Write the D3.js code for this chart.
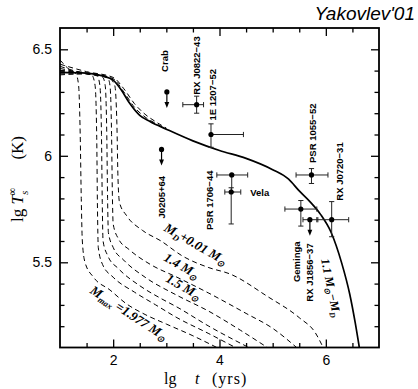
<!DOCTYPE html>
<html>
<head>
<meta charset="utf-8">
<script src="https://cdn.jsdelivr.net/npm/d3@7"></script>
<style>
  html, body { margin: 0; padding: 0; background: #fff; }
  svg { display: block; }
</style>
</head>
<body>
<div id="chart"></div>
<script>
// Cooling curves, points are [lg t (yrs), lg Ts (K)]
var curve11 = [[1.0, 6.392], [1.5, 6.388], [1.8, 6.375], [2.0, 6.355], [2.15, 6.31], [2.3, 6.25],
  [2.5, 6.19], [2.7, 6.16], [3.0, 6.125], [3.5, 6.07], [4.0, 6.025], [4.5, 5.988], [5.0, 5.935],
  [5.3, 5.89], [5.5, 5.835], [5.7, 5.785], [5.9, 5.725], [6.1, 5.64], [6.3, 5.495], [6.45, 5.35],
  [6.55, 5.22], [6.63, 5.1]];
var curveMmax = [[1.0, 6.45], [1.2, 6.4], [1.3, 6.385], [1.35, 6.33], [1.38, 6.1], [1.4, 5.8],
  [1.42, 5.6], [1.47, 5.5], [1.63, 5.43], [1.94, 5.37], [2.25, 5.305], [2.6, 5.255], [3.0, 5.21],
  [3.5, 5.155], [3.95, 5.1]];
var curveB = [[1.0, 6.42], [1.4, 6.39], [1.6, 6.378], [1.66, 6.33], [1.69, 6.1], [1.705, 5.75],
  [1.72, 5.57], [1.8, 5.49], [2.0, 5.43], [2.4, 5.36], [2.8, 5.3], [3.2, 5.24], [3.8, 5.165], [4.3, 5.1]];
var curve15 = [[1.0, 6.41], [1.4, 6.39], [1.7, 6.375], [1.75, 6.33], [1.78, 6.1], [1.795, 5.78],
  [1.81, 5.6], [1.9, 5.53], [2.1, 5.47], [2.5, 5.39], [2.9, 5.33], [3.2, 5.29], [3.8, 5.2], [4.55, 5.1]];
var curveD = [[1.0, 6.40], [1.5, 6.385], [1.8, 6.37], [1.85, 6.33], [1.88, 6.1], [1.895, 5.8],
  [1.91, 5.64], [2.0, 5.57], [2.2, 5.51], [2.6, 5.43], [3.2, 5.345], [3.8, 5.27], [4.4, 5.18], [4.9, 5.1]];
var curve14 = [[1.0, 6.385], [1.5, 6.385], [1.9, 6.365], [1.94, 6.33], [1.97, 6.1], [1.985, 5.82],
  [2.0, 5.68], [2.1, 5.61], [2.3, 5.56], [2.7, 5.49], [3.2, 5.43], [3.8, 5.355], [4.5, 5.26],
  [5.0, 5.19], [5.45, 5.1]];
var curveMd = [[1.0, 6.38], [1.5, 6.385], [1.9, 6.37], [2.03, 6.33], [2.07, 6.15], [2.09, 5.9],
  [2.12, 5.78], [2.25, 5.72], [2.55, 5.65], [2.9, 5.6], [3.3, 5.53], [3.8, 5.475], [4.2, 5.445],
  [4.9, 5.34], [5.5, 5.24], [5.8, 5.17], [5.95, 5.1]];
var curveHugA = [[1.0, 6.43], [1.5, 6.395], [2.0, 6.368], [2.2, 6.315], [2.4, 6.245], [2.6, 6.195],
  [2.8, 6.16], [3.0, 6.13]];
var curveHugB = [[1.0, 6.40], [1.5, 6.39], [2.0, 6.362], [2.2, 6.3], [2.4, 6.228], [2.6, 6.182],
  [2.8, 6.152], [3.0, 6.126]];
var dashedCurves = [curveMmax, curveB, curve15, curveD, curve14, curveMd, curveHugA, curveHugB];

// Observed neutron stars
var obsName   = ["Crab", "RX J0822\u221243", "1E 1207\u221252", "J0205+64", "PSR 1706\u221244", "Vela",
                 "PSR 1055\u221252", "Geminga", "RX J1856\u221237", "RX J0720\u221231"];
var obsAge    = [3.01, 3.57, 3.84, 2.91, 4.23, 4.22, 5.73, 5.53, 5.70, 6.11];
var obsAgeLo  = [null, 3.31, 3.84, null, 3.95, 4.10, 5.44, 5.23, 5.57, 5.83];
var obsAgeHi  = [null, 3.70, 4.45, null, 4.53, 4.40, 6.04, 5.83, 5.85, 6.43];
var obsTemp   = [6.30, 6.24, 6.10, 6.03, 5.91, 5.83, 5.91, 5.75, 5.70, 5.70];
var obsTempLo = [null, 6.20, 6.04, null, 5.83, 5.68, 5.87, 5.67, null, 5.62];
var obsTempHi = [null, 6.28, 6.15, null, 5.91, 5.85, 5.94, 5.79, null, 5.785];
var obsLimit  = [true, false, false, true, false, false, false, false, true, false];

// Axis ticks
var xMajor = [2, 4, 6];
var xMinor = [1.5, 2.5, 3, 3.5, 4.5, 5, 5.5, 6.5];
var yMajor = [5.5, 6, 6.5];
var yMinor = [5.2, 5.3, 5.4, 5.6, 5.7, 5.8, 5.9, 6.1, 6.2, 6.3, 6.4];

var W = 418, H = 389;
var svg = d3.select("#chart").append("svg").attr("width", W).attr("height", H);

var x = d3.scaleLinear().domain([1, 7]).range([60, 379]);
var y = d3.scaleLinear().domain([5.1, 6.6]).range([347.5, 28]);

var sans = "'Liberation Sans', Arial, sans-serif";
var serif = "'Liberation Serif', 'Times New Roman', serif";

// ticks (inward on all four sides)
function ticks(axis, vals, size, tr, labels) {
  var g = svg.append("g").attr("transform", tr)
    .call(axis.tickValues(vals).tickSizeInner(-size).tickSizeOuter(0).tickPadding(labels ? 8 : 0)
      .tickFormat(labels ? function (d) { return String(d); } : ""));
  g.select(".domain").remove();
  g.selectAll(".tick line").attr("stroke", "#000").attr("stroke-width", 1.3);
  g.selectAll(".tick text").attr("font-family", sans).attr("font-size", 14).attr("fill", "#000");
  return g;
}
ticks(d3.axisBottom(x), xMajor, 8, "translate(0,347.5)", true);
ticks(d3.axisBottom(x), xMinor, 4.5, "translate(0,347.5)", false);
ticks(d3.axisTop(x), xMajor, 8, "translate(0,28)", false);
ticks(d3.axisTop(x), xMinor, 4.5, "translate(0,28)", false);
ticks(d3.axisLeft(y), yMajor, 8, "translate(60,0)", true);
ticks(d3.axisLeft(y), yMinor, 4.5, "translate(60,0)", false);
ticks(d3.axisRight(y), yMajor, 8, "translate(379,0)", false);
ticks(d3.axisRight(y), yMinor, 4.5, "translate(379,0)", false);

// clip for curves
svg.append("clipPath").attr("id", "plot-clip").append("rect")
  .attr("x", 60).attr("y", 28).attr("width", 319).attr("height", 319.5);

var line = d3.line()
  .x(function (d) { return x(d[0]); })
  .y(function (d) { return y(d[1]); })
  .curve(d3.curveMonotoneX);

var curves = svg.append("g").attr("clip-path", "url(#plot-clip)");
curves.selectAll(".dash").data(dashedCurves).join("path")
  .attr("class", "dash")
  .attr("d", line)
  .attr("fill", "none").attr("stroke", "#000").attr("stroke-width", 1)
  .attr("stroke-dasharray", "5,3.5");
curves.append("path").attr("d", line(curve11))
  .attr("fill", "none").attr("stroke", "#000").attr("stroke-width", 1.7);

// frame
svg.append("rect").attr("x", 60).attr("y", 28).attr("width", 319).attr("height", 319.5)
  .attr("fill", "none").attr("stroke", "#000").attr("stroke-width", 1.8);

// observations
var idx = d3.range(obsName.length);
var obs = svg.append("g").attr("stroke", "#222").attr("stroke-width", 1);
var cap = 2.6;
idx.forEach(function (i) {
  var px = x(obsAge[i]), py = y(obsTemp[i]);
  if (obsAgeLo[i] != null) {
    var x0 = x(obsAgeLo[i]), x1 = x(obsAgeHi[i]);
    obs.append("line").attr("x1", x0).attr("x2", x1).attr("y1", py).attr("y2", py);
    obs.append("line").attr("x1", x0).attr("x2", x0).attr("y1", py - cap).attr("y2", py + cap);
    obs.append("line").attr("x1", x1).attr("x2", x1).attr("y1", py - cap).attr("y2", py + cap);
  }
  if (obsTempLo[i] != null) {
    var y0 = y(obsTempLo[i]), y1 = y(obsTempHi[i]);
    obs.append("line").attr("x1", px).attr("x2", px).attr("y1", y0).attr("y2", y1);
    obs.append("line").attr("x1", px - cap).attr("x2", px + cap).attr("y1", y0).attr("y2", y0);
    obs.append("line").attr("x1", px - cap).attr("x2", px + cap).attr("y1", y1).attr("y2", y1);
  }
  if (obsLimit[i]) {
    obs.append("line").attr("x1", px).attr("x2", px).attr("y1", py).attr("y2", py + 12)
      .attr("stroke", "#000").attr("stroke-width", 1.2);
    obs.append("path")
      .attr("d", "M" + (px - 2.4) + "," + (py + 10) + "L" + (px + 2.4) + "," + (py + 10) + "L" + px + "," + (py + 16) + "Z")
      .attr("fill", "#000").attr("stroke", "none");
  }
  obs.append("circle").attr("cx", px).attr("cy", py).attr("r", 2.6)
    .attr("fill", "#000").attr("stroke", "none");
});

// object labels: offset from the point (px), rotated unless noted
var labelDx = [1.5, 3.5, 5.5, 3.5, -18.5, 19, 4.5, -1, 3, 11.5];
var labelDy = [-20, -10, -14, 69, 55, 4, -12, 73, 82, -19];
var labelRot = [-90, -90, -90, -90, -90, 0, -90, -90, -90, -90];
idx.forEach(function (i) {
  var lx = x(obsAge[i]) + labelDx[i], ly = y(obsTemp[i]) + labelDy[i];
  svg.append("text")
    .attr("transform", "translate(" + lx + "," + ly + ") rotate(" + labelRot[i] + ")")
    .attr("font-family", sans).attr("font-weight", "bold").attr("font-size", 9.5)
    .attr("fill", "#000")
    .text(obsName[i]);
});

// rich text helper (sub/sup)
function richText(t, parts, size) {
  var shift = 0;
  parts.forEach(function (p) {
    var target = p[1] === "sub" ? size * 0.32 : p[1] === "sup" ? -size * 0.42 : 0;
    var ts = t.append("tspan").attr("dy", target - shift)
      .attr("font-size", p[1] ? size * 0.66 : size).text(p[0]);
    if (p[2]) ts.attr("dx", p[2]);
    if (p[3]) ts.attr("font-style", p[3]);
    shift = target;
  });
}

function curveLabel(cx, cy, rot, parts, size) {
  var t = svg.append("text")
    .attr("transform", "translate(" + cx + "," + cy + ") rotate(" + rot + ")")
    .attr("text-anchor", "middle").attr("dominant-baseline", "middle")
    .attr("font-family", serif).attr("font-weight", "bold").attr("font-style", "italic")
    .attr("fill", "#000");
  richText(t, parts, size);
}
curveLabel(195, 245, 30, [["M", ""], ["D", "sub"], ["+0.01 M", ""], ["\u2299", "sub"]], 13);
curveLabel(181, 267, 30, [["1.4 M", ""], ["\u2299", "sub"]], 13);
curveLabel(183, 288, 30, [["1.5 M", ""], ["\u2299", "sub"]], 13);
curveLabel(128, 314, 33, [["M", ""], ["max", "sub"], [" =1.977 M", ""], ["\u2299", "sub"]], 13);
curveLabel(330, 288, 78, [["1.1 M", ""], ["\u2299", "sub"], ["\u2212M", ""], ["D", "sub"]], 12);

// axis titles
var xt = svg.append("text").attr("x", 164).attr("y", 384)
  .attr("font-family", serif).attr("font-size", 16).attr("fill", "#000");
xt.append("tspan").text("lg");
xt.append("tspan").attr("x", 195).attr("font-style", "italic").text("t");
xt.append("tspan").attr("x", 212).attr("letter-spacing", 1).text("(yrs)");

var yt = svg.append("text").attr("transform", "translate(23,222) rotate(-90)")
  .attr("font-family", serif).attr("font-size", 17).attr("fill", "#000");
richText(yt, [["lg ", ""], ["T", "", null, "italic"], ["s", "sub", null, "italic"], ["\u221e", "sup", -5]], 17);
svg.append("text").attr("transform", "translate(23,136) rotate(-90)")
  .attr("text-anchor", "end")
  .attr("font-family", serif).attr("font-size", 17).attr("fill", "#000")
  .text("(K)");

// credit
svg.append("text").attr("x", 415).attr("y", 20).attr("text-anchor", "end")
  .attr("font-family", sans).attr("font-style", "italic").attr("font-size", 19)
  .attr("fill", "#000").text("Yakovlev'01");
</script>
</body>
</html>
